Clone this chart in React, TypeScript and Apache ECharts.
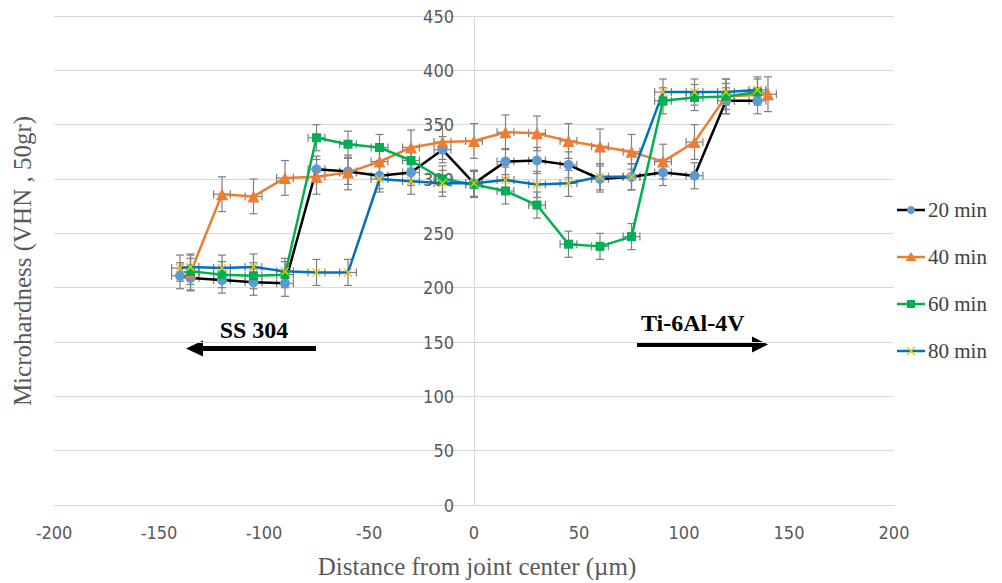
import React, { useEffect, useRef } from "react";
import * as echarts from "echarts";

// ---------- data ----------
const seriesNames = ["20 min", "40 min", "60 min", "80 min"];

const x20 = [-140, -135, -120, -105, -90, -75, -60, -45, -30, -15, 0, 15, 30, 45, 60, 75, 90, 105, 120, 135];
const y20 = [211, 209, 207, 205, 204, 309, 307, 303, 306, 327, 296, 316, 317, 313, 300, 302, 306, 303, 372, 372];

const x40 = [-135, -120, -105, -90, -75, -60, -45, -30, -15, 0, 15, 30, 45, 60, 75, 90, 105, 120, 140];
const y40 = [214, 286, 284, 301, 302, 306, 316, 329, 334, 335, 343, 342, 335, 330, 325, 316, 334, 376, 378];

const x60 = [-135, -120, -105, -90, -75, -60, -45, -30, -15, 0, 15, 30, 45, 60, 75, 90, 105, 120, 135];
const y60 = [215, 212, 211, 212, 338, 332, 329, 317, 300, 295, 289, 276, 240, 238, 247, 372, 375, 376, 380];

const x80 = [-140, -135, -120, -105, -90, -75, -60, -45, -30, -15, 0, 15, 30, 45, 60, 75, 90, 105, 120, 135];
const y80 = [218, 219, 218, 219, 215, 214, 214, 300, 298, 296, 296, 299, 295, 296, 302, 302, 380, 380, 380, 382];

// error magnitudes (µm horizontal, VHN vertical)
const xErr = [4, 4, 4, 4];
const yErr = [12, 16, 12, 12];

const xTicks = { min: -200, max: 200, interval: 50 };
const yTicks = { min: 0, max: 450, interval: 50 };

const lineColors = ["#000000", "#ED7D31", "#00B050", "#0070C0"];
const markerColors = ["#5B9BD5", "#ED7D31", "#00B050", "#F5C400"];
const xSymbol = "path://M0,1 L1,0 L5,4 L9,0 L10,1 L6,5 L10,9 L9,10 L5,6 L1,10 L0,9 L4,5 Z";
const symbols = ["circle", "triangle", "rect", xSymbol];
const symbolSizes = [10, 12, 9, 9];

const xs = [x20, x40, x60, x80];
const ys = [y20, y40, y60, y80];

function errRenderItem(params: any, api: any) {
  const x = api.value(0);
  const y = api.value(1);
  const ex = api.value(2);
  const ey = api.value(3);
  const c = api.coord([x, y]);
  const top = api.coord([x, y + ey]);
  const bot = api.coord([x, y - ey]);
  const l = api.coord([x - ex, y]);
  const r = api.coord([x + ex, y]);
  const cap = 4;
  const style = { stroke: "#7f7f7f", lineWidth: 1.2 };
  return {
    type: "group",
    children: [
      { type: "line", shape: { x1: c[0], y1: top[1], x2: c[0], y2: bot[1] }, style },
      { type: "line", shape: { x1: c[0] - cap, y1: top[1], x2: c[0] + cap, y2: top[1] }, style },
      { type: "line", shape: { x1: c[0] - cap, y1: bot[1], x2: c[0] + cap, y2: bot[1] }, style },
      { type: "line", shape: { x1: l[0], y1: c[1], x2: r[0], y2: c[1] }, style },
      { type: "line", shape: { x1: l[0], y1: c[1] - cap, x2: l[0], y2: c[1] + cap }, style },
      { type: "line", shape: { x1: r[0], y1: c[1] - cap, x2: r[0], y2: c[1] + cap }, style },
    ],
  };
}

const GRID_LEFT = 54;
const GRID_RIGHT = 108;
const CHART_W = 1002;

function legendMarker(i: number, cx: number, cy: number): any[] {
  const fill = markerColors[i];
  if (i === 0) return [{ type: "circle", shape: { cx, cy, r: 4 }, style: { fill } }];
  if (i === 1)
    return [{ type: "polygon", shape: { points: [[cx, cy - 5], [cx - 5.5, cy + 4], [cx + 5.5, cy + 4]] }, style: { fill } }];
  if (i === 2) return [{ type: "rect", shape: { x: cx - 4, y: cy - 4, width: 8, height: 8 }, style: { fill } }];
  return [
    { type: "line", shape: { x1: cx - 4, y1: cy - 4, x2: cx + 4, y2: cy + 4 }, style: { stroke: fill, lineWidth: 1.3 } },
    { type: "line", shape: { x1: cx - 4, y1: cy + 4, x2: cx + 4, y2: cy - 4 }, style: { stroke: fill, lineWidth: 1.3 } },
  ];
}

export default function App() {
  const ref = useRef<HTMLDivElement>(null);

  useEffect(() => {
    if (!ref.current) return;
    const chart = echarts.init(ref.current, null, { renderer: "svg" });

    const lineSeries: any[] = seriesNames.map((name, i) => ({
      name,
      type: "line",
      data: xs[i].map((x, j) => [x, ys[i][j]]),
      symbol: symbols[i],
      symbolSize: symbolSizes[i],
      showAllSymbol: true,
      lineStyle: { color: lineColors[i], width: 2.5 },
      itemStyle: { color: markerColors[i], borderWidth: 0 },
      z: 3,
    }));

    const errSeries: any[] = seriesNames.map((name, i) => ({
      name: name + " err",
      type: "custom",
      renderItem: errRenderItem,
      encode: { x: 0, y: 1 },
      data: xs[i].map((x, j) => [x, ys[i][j], xErr[i], yErr[i]]),
      z: 2,
      silent: true,
    }));

    const serif = "Liberation Serif";
    const plotW = CHART_W - GRID_LEFT - GRID_RIGHT;
    const zeroOffset = ((0 - xTicks.min) / (xTicks.max - xTicks.min)) * plotW;

    const legendItems: any[] = [];
    seriesNames.forEach((name, i) => {
      const cy = 210 + i * 47;
      legendItems.push({
        type: "line",
        shape: { x1: 897, y1: cy, x2: 925, y2: cy },
        style: { stroke: lineColors[i], lineWidth: 2.5 },
      });
      legendItems.push(...legendMarker(i, 911, cy));
      legendItems.push({
        type: "text",
        x: 928,
        y: cy,
        style: {
          text: name,
          fill: "#404040",
          font: "21px " + serif,
          align: "left",
          verticalAlign: "middle",
        },
      });
    });

    chart.setOption({
      animation: false,
      backgroundColor: "#ffffff",
      grid: { left: GRID_LEFT, right: GRID_RIGHT, top: 16, bottom: 78 },
      xAxis: {
        type: "value",
        min: xTicks.min,
        max: xTicks.max,
        interval: xTicks.interval,
        axisLine: { show: true, onZero: false, lineStyle: { color: "#d9d9d9", width: 1 } },
        axisTick: { show: false },
        splitLine: { show: false },
        axisLabel: {
          color: "#595959",
          fontSize: 18,
          fontFamily: "DejaVu Sans Condensed",
          margin: 18,
        },
      },
      yAxis: {
        type: "value",
        position: "left",
        offset: -zeroOffset,
        min: yTicks.min,
        max: yTicks.max,
        interval: yTicks.interval,
        axisLine: { show: true, onZero: false, lineStyle: { color: "#d9d9d9", width: 1 } },
        axisTick: { show: false },
        splitLine: { show: true, lineStyle: { color: "#d9d9d9", width: 1 } },
        axisLabel: {
          color: "#595959",
          fontSize: 18,
          fontFamily: "DejaVu Sans Condensed",
          margin: 20,
        },
      },
      graphic: [
        ...legendItems,
        {
          type: "text",
          x: 22,
          y: 261,
          rotation: Math.PI / 2,
          style: {
            text: "Microhardness (VHN , 50gr)",
            fill: "#595959",
            font: "25px " + serif,
            align: "center",
            verticalAlign: "middle",
          },
        },
        {
          type: "text",
          x: 477,
          y: 566,
          style: {
            text: "Distance from joint center (µm)",
            fill: "#595959",
            font: "25px " + serif,
            align: "center",
            verticalAlign: "middle",
          },
        },
        {
          type: "text",
          x: 254,
          y: 330,
          style: {
            text: "SS 304",
            fill: "#000000",
            font: "bold 24px " + serif,
            align: "center",
            verticalAlign: "middle",
          },
        },
        {
          type: "rect",
          shape: { x: 200, y: 346, width: 116, height: 5 },
          style: { fill: "#000000" },
        },
        {
          type: "polygon",
          shape: { points: [[186, 348.5], [203, 340.5], [203, 356.5]] },
          style: { fill: "#000000" },
        },
        {
          type: "text",
          x: 641,
          y: 323,
          style: {
            text: "Ti-6Al-4V",
            fill: "#000000",
            font: "bold 24px " + serif,
            align: "left",
            verticalAlign: "middle",
          },
        },
        {
          type: "rect",
          shape: { x: 637, y: 342, width: 117, height: 5 },
          style: { fill: "#000000" },
        },
        {
          type: "polygon",
          shape: { points: [[768, 344.5], [752, 336.5], [752, 352.5]] },
          style: { fill: "#000000" },
        },
      ],
      series: [...errSeries, ...lineSeries],
    });

    return () => chart.dispose();
  }, []);

  return (
    <div
      ref={ref}
      style={{ position: "absolute", left: 0, top: 0, width: 1002, height: 583, background: "#fff" }}
    />
  );
}
